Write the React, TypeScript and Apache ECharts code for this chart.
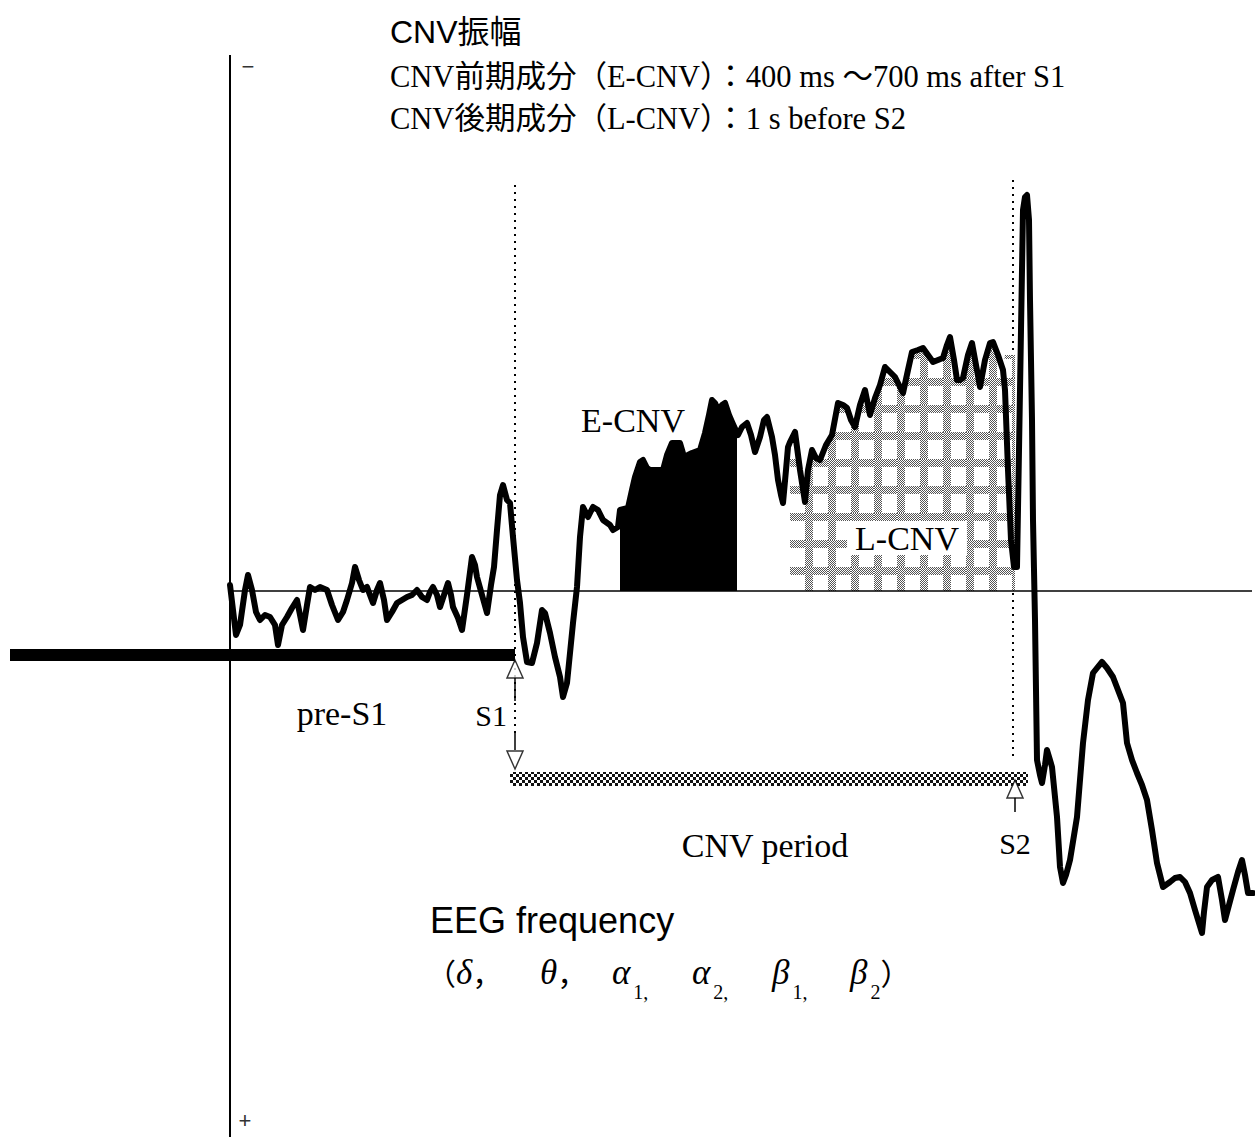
import React, { useEffect, useRef } from "react";
import * as echarts from "echarts";

// Time in ms relative to S1 (S1 = 0 ms, S2 = 2000 ms); amplitude in µV (negative is up).
const S1_TIME = 0;
const S2_TIME = 2000;
const AXIS_TIME = -1140; // amplitude axis position
const END_TIME = 2948;
const AMP_RANGE = [-26.8, 27.3];

// Averaged EEG trace [ms, µV]
const eegTrace: [number, number][] = [
  [-1140, -0.3], [-1128, 0.95], [-1116, 2.2], [-1100, 1.7], [-1080, -0.05], [-1068, -0.8], [-1052, -0.05], [-1036, 1.05],
  [-1020, 1.45], [-1000, 1.2], [-980, 1.3], [-960, 1.7], [-948, 2.7], [-932, 1.7], [-912, 1.3], [-892, 0.85],
  [-872, 0.45], [-860, 1.2], [-848, 1.95], [-832, 0.7], [-820, -0.2], [-800, -0.05], [-780, -0.2], [-752, -0.05],
  [-732, 0.7], [-708, 1.45], [-688, 1.05], [-672, 0.45], [-652, -0.4], [-640, -1.2], [-624, -0.55], [-608, -0.05],
  [-592, -0.2], [-580, 0.2], [-568, 0.6], [-552, -0.05], [-540, -0.4], [-524, 0.45], [-512, 1.45], [-492, 1.05],
  [-472, 0.6], [-452, 0.45], [-432, 0.3], [-412, 0.2], [-392, -0.05], [-372, 0.3], [-352, 0.45], [-340, 0.05],
  [-328, -0.2], [-312, 0.2], [-300, 0.8], [-284, 0.2], [-268, -0.4], [-256, 0.2], [-248, 0.8], [-228, 1.35],
  [-212, 1.95], [-192, 0.2], [-172, -1.7], [-160, -1.3], [-152, -0.7], [-132, 0.2], [-112, 1.1], [-96, -0.3],
  [-84, -1.2], [-72, -3.05], [-60, -4.8], [-48, -5.3], [-32, -4.55], [-20, -4.4], [-8, -2.7], [8, -0.55],
  [20, 0.6], [32, 2.3], [48, 3.55], [68, 3.6], [88, 2.6], [108, 0.95], [120, 1.1], [140, 2.1],
  [160, 3.3], [180, 4.3], [192, 5.3], [208, 4.6], [220, 3.1], [232, 1.6], [248, -0.2], [260, -2.7],
  [272, -4.2], [292, -3.7], [312, -4.2], [332, -4.05], [352, -3.55], [380, -3.3], [392, -3.05], [412, -3.2],
  [420, -4.05], [452, -4.15], [468, -5.05], [480, -5.7], [500, -6.45], [512, -6.55], [528, -6.15], [540, -6.05],
  [568, -6.05], [592, -6.05], [608, -6.8], [628, -7.4], [660, -7.4], [680, -6.55], [692, -6.8], [708, -6.9],
  [740, -7.05], [760, -7.9], [776, -8.8], [788, -9.55], [800, -9.4], [812, -9.05], [828, -9.3], [840, -9.4],
  [856, -8.8], [868, -8.45], [888, -7.9], [892, -7.8], [908, -8.2], [928, -8.4], [944, -7.8], [960, -6.95],
  [980, -7.7], [996, -8.55], [1008, -8.7], [1028, -7.7], [1040, -6.8], [1052, -5.55], [1064, -4.8], [1072, -4.4],
  [1084, -6.05], [1092, -7.2], [1100, -7.45], [1120, -7.95], [1140, -6.05], [1160, -4.45], [1172, -6.05], [1188, -7.05],
  [1204, -6.65], [1220, -6.55], [1244, -7.3], [1268, -7.8], [1292, -9.4], [1312, -9.3], [1328, -9.15], [1344, -8.55],
  [1360, -8.2], [1380, -9.3], [1400, -10.05], [1420, -8.8], [1440, -9.65], [1460, -10.3], [1480, -11.2], [1500, -10.95],
  [1520, -10.7], [1536, -10.3], [1552, -9.9], [1572, -11.05], [1588, -11.95], [1612, -12.05], [1632, -12.15], [1652, -11.8],
  [1672, -11.45], [1692, -11.55], [1712, -11.65], [1728, -12.3], [1740, -12.7], [1756, -11.55], [1768, -10.55], [1780, -10.55],
  [1792, -10.65], [1812, -11.8], [1828, -12.4], [1844, -11.3], [1860, -10.2], [1880, -11.55], [1900, -12.4], [1912, -12.45],
  [1932, -11.8], [1952, -11.05], [1960, -10.05], [1972, -6.05], [1984, -2.55], [1996, -1.2], [2008, -1.2], [2016, -7.05],
  [2024, -13.05], [2032, -19.05], [2040, -19.7], [2048, -19.8], [2056, -18.55], [2060, -14.55], [2068, -8.55], [2072, -3.55],
  [2080, 1.45], [2088, 8.45], [2100, 9.2], [2108, 9.6], [2120, 8.7], [2128, 7.95], [2140, 8.45], [2148, 8.8],
  [2168, 11.3], [2180, 13.8], [2192, 14.6], [2204, 14.2], [2220, 13.45], [2248, 11.3], [2272, 7.6], [2292, 5.45],
  [2312, 4.1], [2328, 3.85], [2348, 3.55], [2368, 3.85], [2392, 4.3], [2412, 4.95], [2432, 5.6], [2448, 7.6],
  [2468, 8.45], [2488, 9.1], [2508, 9.7], [2528, 10.45], [2548, 11.95], [2568, 13.6], [2592, 14.8], [2620, 14.55],
  [2640, 14.35], [2660, 14.3], [2680, 14.55], [2700, 15.1], [2720, 15.95], [2748, 17.1], [2756, 16.05], [2768, 14.8],
  [2788, 14.45], [2812, 14.3], [2828, 15.45], [2840, 16.45], [2856, 15.7], [2872, 14.95], [2892, 14.05], [2908, 13.45],
  [2920, 14.2], [2932, 15.1], [2952, 15.1],
];

// Measurement windows (ms)
const eCnvWindow = [420, 888];
const lCnvWindow = [1100, 1952];
const lCnvTail: [number, number][] = [[1960, -11.8], [2000, -11.8]];

// Pre-S1 baseline bar [ms, µV]
const preS1Bar: [number, number][] = [[-2020, 3.2], [0, 3.2]];
// CNV period bar (ms range, µV range)
const cnvPeriodTime = [-20, 2052];
const cnvPeriodAmp = [9.05, 9.75];

// Stimulus guide lines and arrows [ms, µV]
const s1Guide: [number, number][] = [[S1_TIME, -20.3], [S1_TIME, 7.2]];
const s2Guide: [number, number][] = [[S2_TIME - 8, -20.55], [S2_TIME - 8, 8.3]];
const s1UpStem: [number, number][] = [[S1_TIME, 4.3], [S1_TIME, 5.5]];
const s1DownStem: [number, number][] = [[S1_TIME, 7.1], [S1_TIME, 7.95]];
const s2Stem: [number, number][] = [[S2_TIME, 10.3], [S2_TIME, 11.05]];
const upArrows: [number, number][] = [[S1_TIME, 3.9], [S2_TIME, 9.9]];
const downArrows: [number, number][] = [[S1_TIME, 8.45]];

const SERIF = "'Liberation Serif', 'Times New Roman', 'Noto Sans CJK JP', serif";
const SANS = "'Liberation Sans', Arial, 'Noto Sans CJK JP', sans-serif";
const CJK = "'Noto Sans CJK JP', sans-serif";

// EEG frequency band labels: [rich text, left x]
const bandLabels: [string, number][] = [
  ["{p|（}{g|δ}{p|，}", 426],
  ["{g|θ}{p|，}", 540],
  ["{g|α}{sp| }{sub|1}{c|,}", 612],
  ["{g|α}{sp| }{sub|2}{c|,}", 692],
  ["{g|β}{sp| }{sub|1}{c|,}", 772],
  ["{g|β}{sp| }{sub|2}{p|）}", 850],
];

function makeGridPattern(): string {
  const w = 23, h = 27, band = 8;
  const c = document.createElement("canvas");
  c.width = w; c.height = h;
  const ctx = c.getContext("2d")!;
  ctx.fillStyle = "#fff";
  ctx.fillRect(0, 0, w, h);
  ctx.fillStyle = "#555";
  for (let y = 0; y < h; y++) {
    for (let x = 0; x < w; x++) {
      if ((x < band || y < band) && (x + y) % 2 === 0) ctx.fillRect(x, y, 1, 1);
    }
  }
  return c.toDataURL();
}

function makeCheckerPattern(): string {
  const s = 3;
  const c = document.createElement("canvas");
  c.width = s * 2; c.height = s * 2;
  const ctx = c.getContext("2d")!;
  ctx.fillStyle = "#fff";
  ctx.fillRect(0, 0, s * 2, s * 2);
  ctx.fillStyle = "#111";
  ctx.fillRect(0, 0, s, s);
  ctx.fillRect(s, s, s, s);
  return c.toDataURL();
}

export default function App() {
  const ref = useRef<HTMLDivElement>(null);
  useEffect(() => {
    if (!ref.current) return;
    const chart = echarts.init(ref.current, undefined, { renderer: "svg" });

    const eCnvFill = eegTrace.filter(([t]) => t >= eCnvWindow[0] && t <= eCnvWindow[1]);
    const lCnvFill = eegTrace.filter(([t]) => t >= lCnvWindow[0] && t <= lCnvWindow[1]).concat(lCnvTail);

    const gridPattern = { image: makeGridPattern(), repeat: "repeat", imageWidth: 23, imageHeight: 27 };
    const checkerPattern = { image: makeCheckerPattern(), repeat: "repeat", imageWidth: 6, imageHeight: 6 };

    const plainLine = (data: [number, number][], width: number, type: any = "solid", z = 3) => ({
      type: "line",
      data,
      symbol: "none",
      silent: true,
      clip: false,
      z,
      lineStyle: { color: "#000", width, type },
    });

    const bandTexts = bandLabels.map(([text, x]) => ({
      type: "text",
      x,
      y: 972,
      silent: true,
      style: {
        text,
        fontFamily: SERIF,
        fontSize: 34,
        lineHeight: 60,
        fill: "#000",
        verticalAlign: "middle",
        rich: {
          p: { fontFamily: CJK, fontSize: 30, lineHeight: 60, fill: "#000" },
          g: { fontFamily: SERIF, fontStyle: "italic", fontSize: 35, lineHeight: 60, fill: "#000" },
          sp: { fontFamily: SERIF, fontSize: 12, lineHeight: 60 },
          sub: { fontFamily: SERIF, fontSize: 20, lineHeight: 20, verticalAlign: "bottom", fill: "#000" },
          c: { fontFamily: SERIF, fontSize: 20, lineHeight: 36, verticalAlign: "bottom", fill: "#000" },
        },
      },
    }));

    const option: any = {
      animation: false,
      backgroundColor: "#fff",
      grid: { left: 10, right: 5, top: 55, bottom: 0, outerBoundsMode: "none" },
      xAxis: {
        type: "value",
        min: -2020,
        max: END_TIME,
        axisLine: { show: false },
        axisTick: { show: false },
        axisLabel: { show: false },
        splitLine: { show: false },
      },
      yAxis: {
        type: "value",
        inverse: true,
        min: AMP_RANGE[0],
        max: AMP_RANGE[1],
        axisLine: { show: false },
        axisTick: { show: false },
        axisLabel: { show: false },
        splitLine: { show: false },
      },
      series: [
        {
          name: "L-CNV",
          type: "line",
          data: lCnvFill,
          symbol: "none",
          silent: true,
          z: 2,
          lineStyle: { width: 0 },
          areaStyle: { color: gridPattern, opacity: 1 },
        },
        {
          name: "E-CNV",
          type: "line",
          data: eCnvFill,
          symbol: "none",
          silent: true,
          z: 2,
          lineStyle: { width: 0 },
          areaStyle: { color: "#000", opacity: 1 },
        },
        // amplitude axis and zero baseline
        plainLine([[AXIS_TIME, AMP_RANGE[0]], [AXIS_TIME, AMP_RANGE[1]]], 2, "solid", 3),
        plainLine([[AXIS_TIME, 0], [END_TIME, 0]], 1.5, "solid", 3),
        plainLine(preS1Bar, 12, "solid", 3),
        plainLine(s1Guide, 2, [2, 5], 1),
        {
          ...plainLine(s2Guide, 2, [2, 5], 1),
          markArea: {
            silent: true,
            itemStyle: { color: checkerPattern, opacity: 1 },
            data: [[
              { coord: [cnvPeriodTime[0], cnvPeriodAmp[0]] },
              { coord: [cnvPeriodTime[1], cnvPeriodAmp[1]] },
            ]],
          },
        },
        plainLine(s1UpStem, 1.5),
        plainLine(s1DownStem, 1.5),
        plainLine(s2Stem, 1.5),
        {
          name: "EEG",
          type: "line",
          data: eegTrace,
          symbol: "none",
          silent: true,
          clip: false,
          z: 5,
          lineStyle: { color: "#000", width: 6, join: "round", cap: "round" },
        },
        {
          type: "scatter",
          data: upArrows,
          symbol: "triangle",
          symbolSize: [16, 18],
          silent: true,
          z: 6,
          itemStyle: { color: "#fff", borderColor: "#000", borderWidth: 1.5 },
        },
        {
          type: "scatter",
          data: downArrows,
          symbol: "triangle",
          symbolRotate: 180,
          symbolSize: [16, 18],
          silent: true,
          z: 6,
          itemStyle: { color: "#fff", borderColor: "#000", borderWidth: 1.5 },
        },
      ],
      graphic: [
        { type: "text", x: 390, y: 32, silent: true, style: { text: "CNV振幅", fontFamily: SANS, fontSize: 32, fill: "#000", verticalAlign: "middle" } },
        { type: "text", x: 390, y: 77, silent: true, style: { text: "CNV前期成分（E-CNV）：400 ms ～700 ms after S1", fontFamily: SERIF, fontSize: 30.5, fill: "#000", verticalAlign: "middle" } },
        { type: "text", x: 390, y: 119, silent: true, style: { text: "CNV後期成分（L-CNV）：1 s before S2", fontFamily: SERIF, fontSize: 30.5, fill: "#000", verticalAlign: "middle" } },
        { type: "text", x: 248, y: 66, silent: true, style: { text: "−", fontFamily: SANS, fontSize: 22, fill: "#333", align: "center", verticalAlign: "middle" } },
        { type: "text", x: 245, y: 1120, silent: true, style: { text: "+", fontFamily: SANS, fontSize: 22, fill: "#333", align: "center", verticalAlign: "middle" } },
        { type: "text", x: 633, y: 420, silent: true, z: 10, style: { text: "E-CNV", fontFamily: SERIF, fontSize: 34, fill: "#000", align: "center", verticalAlign: "middle" } },
        { type: "text", x: 907, y: 538, silent: true, z: 10, style: { text: "L-CNV", fontFamily: SERIF, fontSize: 34, fill: "#000", align: "center", verticalAlign: "middle", backgroundColor: "#fff", padding: [0, 8, 0, 8] } },
        { type: "text", x: 342, y: 713, silent: true, style: { text: "pre-S1", fontFamily: SERIF, fontSize: 34, fill: "#000", align: "center", verticalAlign: "middle" } },
        { type: "text", x: 507, y: 715, silent: true, style: { text: "S1", fontFamily: SERIF, fontSize: 30, fill: "#000", align: "right", verticalAlign: "middle" } },
        { type: "text", x: 765, y: 845, silent: true, style: { text: "CNV period", fontFamily: SERIF, fontSize: 34, fill: "#000", align: "center", verticalAlign: "middle" } },
        { type: "text", x: 1015, y: 843, silent: true, style: { text: "S2", fontFamily: SERIF, fontSize: 30, fill: "#000", align: "center", verticalAlign: "middle" } },
        { type: "text", x: 430, y: 920, silent: true, style: { text: "EEG frequency", fontFamily: SANS, fontSize: 36, fill: "#000", verticalAlign: "middle" } },
        ...bandTexts,
      ],
    };
    chart.setOption(option);
    return () => chart.dispose();
  }, []);
  return <div ref={ref} style={{ position: "absolute", left: 0, top: 0, width: 1257, height: 1137, background: "#fff" }} />;
}
